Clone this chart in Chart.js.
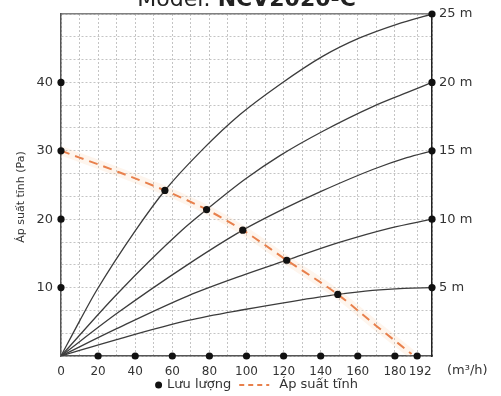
<!DOCTYPE html>
<html>
<head>
<meta charset="utf-8">
<script src="https://cdn.jsdelivr.net/npm/chart.js@4"></script>
<style>
  html, body { margin: 0; padding: 0; background: #fff; }
</style>
</head>
<body>
<canvas id="fanCurveCanvas" width="501" height="396"></canvas>
<script>
// ---- data ----
const FLOW_TICKS = [0, 20, 40, 60, 80, 100, 120, 140, 160, 180, 192];
const PRESSURE_TICKS = [10, 20, 30, 40];
const HEAD_TICKS = [5, 10, 15, 20, 25];

// system curves (flow m3/h, pressure Pa), one per duct length
const curve25m = [[0, 0], [10, 5.1], [19, 9.5], [40, 18.3], [56, 24.2], [76, 30.1], [96.5, 35.3], [118, 39.7], [141, 43.8], [161, 46.5], [181, 48.5], [200, 50]];
const curve20m = [[0, 0], [30, 9.0], [64.9, 18.3], [78.5, 21.4], [99, 25.8], [118, 29.3], [141.4, 32.9], [168.4, 36.5], [186.4, 38.5], [200, 40]];
const curve15m = [[0, 0], [30, 6.2], [68.5, 13.4], [98, 18.4], [120, 21.5], [140.5, 24.1], [168.4, 27.3], [186.4, 29.0], [200, 30]];
const curve10m = [[0, 0], [30, 4.0], [68.5, 8.8], [99, 11.9], [121.7, 14.0], [150, 16.6], [177.4, 18.7], [200, 20]];
const curve5m = [[0, 0], [30, 2.4], [68.5, 5.2], [99, 6.8], [125, 8.0], [149.2, 9.0], [168, 9.6], [185, 9.9], [200, 10]];

// static pressure (fan curve)
const staticPressure = [[0, 30], [30, 27.0], [56, 24.2], [78.5, 21.4], [98, 18.4], [121.7, 14.0], [149.2, 9.0], [170, 4.4], [189, 0.3]];

// operating points (Lưu lượng)
const operatingPoints = [[56, 24.2], [78.5, 21.4], [98, 18.4], [121.7, 14.0], [149.2, 9.0]];

const FLOW_MAX = 200;
const PRESSURE_MAX = 50;
const HEAD_MAX = 25;

const TITLE_PREFIX = 'Model: ';
const TITLE_MODEL = 'NCV2020-C';
const Y_TITLE = 'Áp suất tĩnh (Pa)';
const X_UNIT = '(m³/h)';
const LEGEND_FLOW = 'Lưu lượng';
const LEGEND_PRESSURE = 'Áp suất tĩnh';

// ---- styles ----
const FONT = "'DejaVu Sans', sans-serif";
const TEXT_COLOR = '#333';
const LINE_COLOR = '#3c3c3c';
const PRESSURE_COLOR = '#e8804c';
const DOT_COLOR = '#111';
const GRID_COLOR = '#c4c4c4';

const toPoints = pairs => pairs.map(([x, y]) => ({ x, y }));

const curveDataset = (label, pairs) => ({
  label,
  data: toPoints(pairs),
  borderColor: LINE_COLOR,
  borderWidth: 1.3,
  pointRadius: 0,
  showLine: true,
  cubicInterpolationMode: 'monotone',
  fill: false,
});

const dotDataset = (label, points, axis) => ({
  label,
  data: points,
  yAxisID: axis || 'y',
  showLine: false,
  pointRadius: 3.6,
  pointBackgroundColor: DOT_COLOR,
  pointBorderWidth: 0,
  clip: false,
});

const datasets = [
  dotDataset(LEGEND_FLOW, toPoints(operatingPoints)),
  dotDataset('axis-left', PRESSURE_TICKS.map(y => ({ x: 0, y }))),
  dotDataset('axis-bottom', FLOW_TICKS.filter(v => v > 0).map(x => ({ x, y: 0 }))),
  dotDataset('axis-right', HEAD_TICKS.map(y => ({ x: FLOW_MAX, y })), 'y2'),
  {
    label: LEGEND_PRESSURE,
    data: toPoints(staticPressure),
    borderColor: PRESSURE_COLOR,
    borderWidth: 2,
    borderDash: [9, 6],
    pointRadius: 0,
    showLine: true,
    cubicInterpolationMode: 'monotone',
  },
  {
    label: 'pressure-halo',
    data: toPoints(staticPressure),
    borderColor: 'rgba(252, 205, 165, 0.2)',
    borderWidth: 9,
    pointRadius: 0,
    showLine: true,
    cubicInterpolationMode: 'monotone',
  },
  curveDataset('25 m', curve25m),
  curveDataset('20 m', curve20m),
  curveDataset('15 m', curve15m),
  curveDataset('10 m', curve10m),
  curveDataset('5 m', curve5m),
];

const tickFont = { family: FONT, size: 13 };

// labels must not push the plot area around
const noLabelPadding = scale => {
  scale.paddingTop = 0;
  scale.paddingBottom = 0;
  scale.paddingLeft = 0;
  scale.paddingRight = 0;
};

/**
 * Title, rotated axis title, unit and legend are drawn by hand
 */
const chartText = {
  id: 'chartText',
  afterDraw(chart) {
    const { ctx, chartArea } = chart;
    const { left, right, top, bottom } = chartArea;
    ctx.save();
    ctx.fillStyle = '#222';

    // title, mostly cut by the top edge
    ctx.textBaseline = 'alphabetic';
    ctx.font = `22px ${FONT}`;
    const w1 = ctx.measureText(TITLE_PREFIX).width;
    ctx.font = `bold 22px ${FONT}`;
    const w2 = ctx.measureText(TITLE_MODEL).width;
    const tx = (left + right) / 2 - (w1 + w2) / 2;
    ctx.font = `22px ${FONT}`;
    ctx.fillText(TITLE_PREFIX, tx, top - 8);
    ctx.font = `bold 22px ${FONT}`;
    ctx.fillText(TITLE_MODEL, tx + w1, top - 8);

    // y axis title
    ctx.fillStyle = TEXT_COLOR;
    ctx.save();
    ctx.translate(21, (top + bottom) / 2 + 12);
    ctx.rotate(-Math.PI / 2);
    ctx.font = `11px ${FONT}`;
    ctx.textAlign = 'center';
    ctx.textBaseline = 'middle';
    ctx.fillText(Y_TITLE, 0, 0);
    ctx.restore();

    // unit after the last flow tick
    ctx.font = `13px ${FONT}`;
    ctx.textAlign = 'left';
    ctx.textBaseline = 'middle';
    ctx.fillText(X_UNIT, right + 15, bottom + 15);

    // legend
    ctx.font = `13px ${FONT}`;
    const flowW = ctx.measureText(LEGEND_FLOW).width;
    const presW = ctx.measureText(LEGEND_PRESSURE).width;
    const total = 12 + flowW + 8 + 30 + 10 + presW;
    const ly = bottom + 29;
    let lx = (left + right) / 2 + 10 - total / 2;
    ctx.fillStyle = DOT_COLOR;
    ctx.beginPath();
    ctx.arc(lx + 3.5, ly, 3.5, 0, Math.PI * 2);
    ctx.fill();
    ctx.fillStyle = TEXT_COLOR;
    ctx.fillText(LEGEND_FLOW, lx + 12, ly);
    lx += 12 + flowW + 8;
    ctx.strokeStyle = PRESSURE_COLOR;
    ctx.lineWidth = 2;
    ctx.setLineDash([5, 4]);
    ctx.beginPath();
    ctx.moveTo(lx, ly);
    ctx.lineTo(lx + 30, ly);
    ctx.stroke();
    ctx.setLineDash([]);
    ctx.fillText(LEGEND_PRESSURE, lx + 40, ly);
    ctx.restore();
  },
};

const flowGrid = [];
for (let v = 0; v <= 180; v += 10) flowGrid.push(v);
flowGrid.push(192, FLOW_MAX);

const pressureGrid = [];
for (let k = 0; k <= 15; k++) pressureGrid.push((k * PRESSURE_MAX) / 15);

const lastFlowTick = FLOW_TICKS[FLOW_TICKS.length - 1];

const ctx = document.getElementById('fanCurveCanvas').getContext('2d');

window.fanChart = new Chart(ctx, {
  type: 'scatter',
  data: { datasets },
  plugins: [chartText],
  options: {
    responsive: false,
    animation: false,
    layout: { padding: { top: 14, left: 0, right: 0, bottom: 0 } },
    plugins: {
      legend: { display: false },
      tooltip: { enabled: false },
    },
    scales: {
      x: {
        type: 'linear',
        position: 'bottom',
        min: 0,
        max: FLOW_MAX,
        afterBuildTicks: scale => {
          scale.ticks = flowGrid.map(value => ({ value }));
        },
        afterFit: scale => {
          scale.height = 40;
          noLabelPadding(scale);
        },
        ticks: {
          autoSkip: false,
          maxRotation: 0,
          padding: 9,
          color: TEXT_COLOR,
          font: { family: FONT, size: 12 },
          callback: v => {
            if (!FLOW_TICKS.includes(v)) return '';
            // nudge the last label off its neighbour, like the reference
            return v === lastFlowTick ? `\u2002${v}` : String(v);
          },
        },
        grid: { color: GRID_COLOR, lineWidth: 1, drawTicks: false },
        border: { color: '#555', width: 1.5, dash: [2, 2] },
      },
      x2: {
        type: 'linear',
        position: 'top',
        min: 0,
        max: FLOW_MAX,
        ticks: { display: false },
        grid: { display: false, drawTicks: false },
        border: { color: '#808080', width: 1.5 },
        afterFit: scale => {
          scale.height = 0;
          noLabelPadding(scale);
        },
      },
      y: {
        type: 'linear',
        position: 'left',
        min: 0,
        max: PRESSURE_MAX,
        afterBuildTicks: scale => {
          scale.ticks = pressureGrid.map(value => ({ value }));
        },
        afterFit: scale => {
          scale.width = 61;
          noLabelPadding(scale);
        },
        ticks: {
          autoSkip: false,
          padding: 8,
          color: TEXT_COLOR,
          font: tickFont,
          callback: v => {
            const r = Math.round(v);
            return Math.abs(v - r) < 1e-6 && PRESSURE_TICKS.includes(r) ? String(r) : '';
          },
        },
        grid: { color: GRID_COLOR, lineWidth: 1, drawTicks: false },
        border: { color: '#555', width: 1.5, dash: [2, 2] },
      },
      y2: {
        type: 'linear',
        position: 'right',
        min: 0,
        max: HEAD_MAX,
        afterBuildTicks: scale => {
          scale.ticks = [0, ...HEAD_TICKS].map(value => ({ value }));
        },
        afterFit: scale => {
          scale.width = 69;
          noLabelPadding(scale);
        },
        ticks: {
          autoSkip: false,
          padding: 7,
          color: TEXT_COLOR,
          font: tickFont,
          callback: v => (v ? `${v} m` : ''),
        },
        grid: { display: false, drawTicks: false },
        border: { color: '#222', width: 1.5 },
      },
    },
  },
});
</script>
</body>
</html>
